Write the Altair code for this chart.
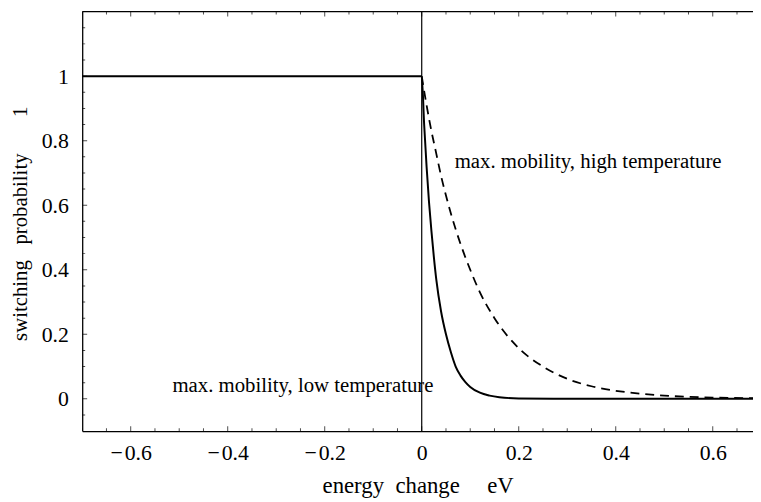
import altair as alt
import pandas as pd

# low temperature (solid) curve
low_x = [-0.7, 0.0, 0.005, 0.01, 0.015, 0.02, 0.025, 0.03, 0.04, 0.05, 0.06, 0.07,
         0.08, 0.09, 0.1, 0.12, 0.14, 0.16, 0.2, 0.3, 0.4, 0.5, 0.6, 0.69]
low_y = [1, 1, 0.85, 0.72, 0.61, 0.52, 0.44, 0.37, 0.27, 0.2, 0.145, 0.1,
         0.072, 0.052, 0.037, 0.019, 0.01, 0.005, 0.0013, 0, 0, 0, 0, 0]

# high temperature (dashed) curve
high_x = [0.0, 0.01, 0.02, 0.03, 0.04, 0.05, 0.06, 0.08, 0.1, 0.12, 0.15, 0.2,
          0.25, 0.3, 0.35, 0.4, 0.45, 0.5, 0.55, 0.6, 0.69]
high_y = [1, 0.91, 0.83, 0.76, 0.69, 0.63, 0.575, 0.48, 0.4, 0.33, 0.25, 0.157,
          0.1, 0.062, 0.039, 0.025, 0.016, 0.01, 0.006, 0.004, 0.002]

x_labels = [-0.6, -0.4, -0.2, 0, 0.2, 0.4, 0.6]
y_labels = [0, 0.2, 0.4, 0.6, 0.8, 1]
x_major = [-0.6, -0.4, -0.2, 0.0, 0.2, 0.4, 0.6]
x_minor = [-0.7, -0.65, -0.55, -0.5, -0.45, -0.35, -0.3, -0.25, -0.15, -0.1, -0.05,
           0.05, 0.1, 0.15, 0.25, 0.3, 0.35, 0.45, 0.5, 0.55, 0.65]
y_major = [0, 0.2, 0.4, 0.6, 0.8, 1.0]
y_minor = [-0.05, 0.05, 0.1, 0.15, 0.25, 0.3, 0.35, 0.45, 0.5, 0.55, 0.65, 0.7,
           0.75, 0.85, 0.9, 0.95, 1.05, 1.1, 1.15]

labels_text = ["max. mobility, high temperature", "max. mobility, low temperature"]
labels_x = [0.068, -0.514]
labels_y = [0.715, 0.02]

XMIN, XMAX = -0.7, 0.683
YMIN, YMAX = -0.1, 1.2
FONT = "Liberation Serif"
W, H = 678, 424

xs = alt.Scale(domain=[XMIN, XMAX], nice=False, zero=False)
ys = alt.Scale(domain=[YMIN, YMAX], nice=False, zero=False)

low = pd.DataFrame({"x": low_x, "y": low_y})
high = pd.DataFrame({"x": high_x, "y": high_y})

sp = "\u00a0"
base = alt.Chart(low).mark_line(color="black", strokeWidth=2, interpolate="monotone").encode(
    x=alt.X("x:Q", scale=xs, axis=alt.Axis(
        values=x_labels, ticks=False, tickSize=0, grid=False, domainColor="black",
        domainWidth=1.3, labelFont=FONT, labelFontSize=22, labelColor="black",
        labelPadding=12,
        labelExpr="datum.value < 0 ? '\u2212\u200a' + format(-datum.value, '~g') : format(datum.value, '~g')",
        title="energy" + sp * 2 + "change" + sp * 4 + "\u2009eV", titleFont=FONT,
        titleFontSize=23, titleFontWeight="normal", titleColor="black",
        titleBaseline="alphabetic", titleAlign="center", titleX=W / 2, titleY=62)),
    y=alt.Y("y:Q", scale=ys, axis=alt.Axis(
        values=y_labels, ticks=False, tickSize=0, grid=False, domainColor="black",
        domainWidth=1.3, labelFont=FONT, labelFontSize=22, labelColor="black",
        labelPadding=14, labelExpr="format(datum.value, '~g')",
        title="switching" + sp * 3 + "probability" + sp * 7 + "1", titleFont=FONT,
        titleFontSize=21, titleFontWeight="normal", titleColor="black",
        titleBaseline="alphabetic", titleAlign="center", titleAngle=270,
        titleX=-56.5, titleY=H / 2 + 2)),
)

dashed = alt.Chart(high).mark_line(color="black", strokeWidth=1.8, strokeDash=[9, 6],
                                   interpolate="monotone").encode(
    x=alt.X("x:Q", scale=xs), y=alt.Y("y:Q", scale=ys))

vline = alt.Chart(pd.DataFrame({"x": [0.0]})).mark_rule(color="black", strokeWidth=1.2).encode(
    x=alt.X("x:Q", scale=xs), y=alt.datum(YMIN), y2=alt.datum(YMAX))

topline = alt.Chart(pd.DataFrame({"y": [YMAX]})).mark_rule(color="black", strokeWidth=1.3).encode(
    y=alt.Y("y:Q", scale=ys), x=alt.datum(XMIN), x2=alt.datum(XMAX))

def xticks(vals, y, size):
    return alt.Chart(pd.DataFrame({"v": vals})).mark_tick(
        orient="vertical", size=size, thickness=1, color="black", clip=True).encode(
        x=alt.X("v:Q", scale=xs), y=alt.datum(y))

def yticks(vals, size):
    return alt.Chart(pd.DataFrame({"v": vals})).mark_tick(
        orient="horizontal", size=size, thickness=1, color="black", clip=True).encode(
        y=alt.Y("v:Q", scale=ys), x=alt.datum(XMIN))

txt = alt.Chart(pd.DataFrame({"t": labels_text, "x": labels_x, "y": labels_y})).mark_text(
    align="left", baseline="alphabetic", font=FONT, fontSize=21, color="black").encode(
    x=alt.X("x:Q", scale=xs), y=alt.Y("y:Q", scale=ys), text="t:N")

chart = alt.layer(
    vline, topline,
    xticks(x_major, YMIN, 10), xticks(x_minor, YMIN, 6),
    xticks(x_major, YMAX, 10), xticks(x_minor, YMAX, 6),
    yticks(y_major, 10), yticks(y_minor, 6),
    base, dashed, txt,
).properties(
    width=W, height=H,
    autosize=alt.AutoSizeParams(type="none"),
    padding={"left": 75, "top": 1, "right": 0, "bottom": 68},
    background="white",
).configure_view(stroke=None)

chart.save("out.html", embed_options={"renderer": "svg", "actions": False})
